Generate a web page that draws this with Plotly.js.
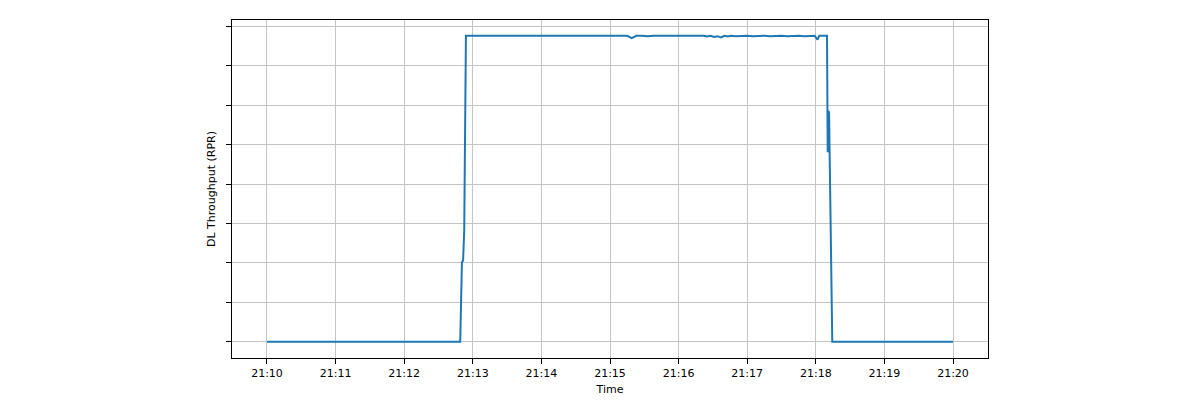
<!DOCTYPE html>
<html>
<head>
<meta charset="utf-8">
<script src="https://cdn.plot.ly/plotly-3.0.1.min.js"></script>
<style>
  body { margin: 0; background: #fff; }
  #chart { width: 1200px; height: 400px; }
</style>
</head>
<body>
<div id="chart"></div>
<script>
// sample times (HH:MM:SS) and DL throughput
var times = [
  '21:10:00', '21:12:49', '21:12:50.5', '21:12:51.5', '21:12:52.5', '21:12:54',
  '21:12:55', '21:13:00', '21:13:05', '21:13:10', '21:13:15', '21:13:20', '21:13:25',
  '21:13:30', '21:13:35', '21:13:40', '21:13:45', '21:13:50', '21:13:55',
  '21:14:00', '21:14:05', '21:14:10', '21:14:15', '21:14:20', '21:14:25',
  '21:14:30', '21:14:35', '21:14:40', '21:14:45', '21:14:50', '21:14:55',
  '21:15:00', '21:15:05', '21:15:10', '21:15:15', '21:15:19', '21:15:23',
  '21:15:28', '21:15:33', '21:15:38', '21:15:43', '21:15:48', '21:15:53',
  '21:15:58', '21:16:03', '21:16:08', '21:16:13', '21:16:18', '21:16:22',
  '21:16:25', '21:16:28', '21:16:31', '21:16:34', '21:16:37', '21:16:40',
  '21:16:43', '21:16:46', '21:16:50', '21:16:55', '21:17:00', '21:17:05',
  '21:17:10', '21:17:15', '21:17:20', '21:17:25', '21:17:30', '21:17:35',
  '21:17:40', '21:17:45', '21:17:50', '21:17:55', '21:17:59', '21:18:01.5',
  '21:18:03', '21:18:06', '21:18:09.8', '21:18:10.4', '21:18:11.1', '21:18:11.6',
  '21:18:14.4', '21:20:00'
];
var throughput = [
  0, 0, 2.02, 2.06, 2.82, 7.76,
  7.76, 7.76, 7.75, 7.76, 7.76, 7.75, 7.76,
  7.76, 7.75, 7.76, 7.76, 7.75, 7.76,
  7.76, 7.75, 7.76, 7.76, 7.75, 7.76,
  7.76, 7.75, 7.76, 7.76, 7.75, 7.76,
  7.76, 7.75, 7.76, 7.76, 7.70, 7.76,
  7.76, 7.75, 7.76, 7.76, 7.75, 7.76,
  7.76, 7.75, 7.76, 7.76, 7.75, 7.76,
  7.74, 7.76, 7.73, 7.75, 7.72, 7.76,
  7.74, 7.76, 7.75, 7.76, 7.76, 7.75,
  7.76, 7.76, 7.75, 7.76, 7.76, 7.75,
  7.76, 7.76, 7.75, 7.76, 7.76, 7.66,
  7.76, 7.76, 7.76, 4.81, 5.86, 5.80,
  0, 0
];
var day = '2024-01-01 ';
var xRange = ['21:09:29.4', '21:20:30.6'];

var x = times.map(function (t) { return day + t; });

var trace = {
  x: x,
  y: throughput,
  type: 'scatter',
  mode: 'lines',
  line: {color: '#1f77b4', width: 2},
  hoverinfo: 'x+y'
};

var font = {family: 'DejaVu Sans, sans-serif', size: 11, color: '#000'};

Plotly.newPlot(document.getElementById('chart'), [trace], {
  width: 1200,
  height: 400,
  margin: {l: 232, r: 212, t: 20, b: 42, pad: 0},
  paper_bgcolor: '#fff',
  plot_bgcolor: '#fff',
  showlegend: false,
  font: font,
  xaxis: {
    type: 'date',
    range: [day + xRange[0], day + xRange[1]],
    tickformat: '%H:%M',
    dtick: 60000,
    tick0: day + '21:10:00',
    ticks: 'outside',
    ticklen: 5,
    tickwidth: 1,
    tickcolor: '#000',
    showline: true,
    linecolor: '#000',
    linewidth: 1,
    mirror: true,
    showgrid: true,
    gridcolor: '#c4c4c4',
    gridwidth: 1,
    zeroline: false,
    title: {text: 'Time', font: font, standoff: 6}
  },
  yaxis: {
    range: [-0.41, 8.16],
    dtick: 1,
    tick0: 0,
    showticklabels: false,
    ticks: 'outside',
    ticklen: 5,
    tickwidth: 1,
    tickcolor: '#000',
    showline: true,
    linecolor: '#000',
    linewidth: 1,
    mirror: true,
    showgrid: true,
    gridcolor: '#c4c4c4',
    gridwidth: 1,
    zeroline: false,
    title: {text: 'DL Throughput (RPR)', font: font, standoff: 8}
  }
}, {displayModeBar: false, staticPlot: true});
</script>
</body>
</html>
